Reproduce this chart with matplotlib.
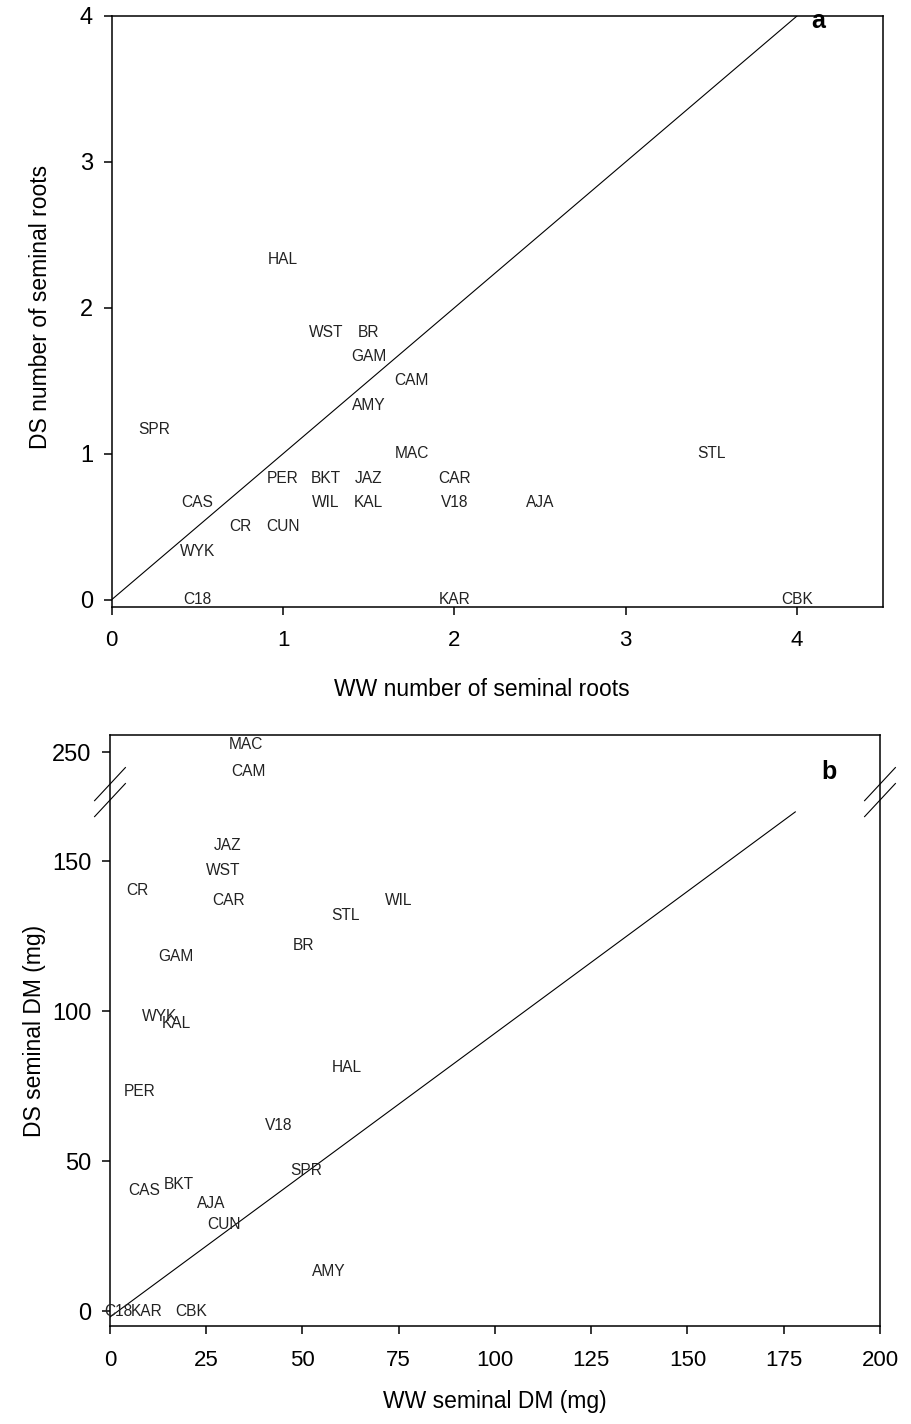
import numpy as np
import matplotlib
matplotlib.use("Agg")
from matplotlib import pyplot as plt

plt.rcParams['font.family'] = ['Liberation Sans', 'DejaVu Sans']

# ---------------------------- panel a : number of seminal roots -----------------------
names_a = ['HAL', 'WST', 'BR', 'GAM', 'CAM', 'AMY', 'SPR', 'MAC', 'STL',
           'PER', 'BKT', 'JAZ', 'CAR', 'CAS', 'WIL', 'KAL', 'V18', 'AJA',
           'CR', 'CUN', 'WYK', 'C18', 'KAR', 'CBK']
ww_roots = [1.0, 1.25, 1.5, 1.5, 1.75, 1.5, 0.25, 1.75, 3.5,
            1.0, 1.25, 1.5, 2.0, 0.5, 1.25, 1.5, 2.0, 2.5,
            0.75, 1.0, 0.5, 0.5, 2.0, 4.0]
ds_roots = [2.333, 1.833, 1.833, 1.667, 1.5, 1.333, 1.167, 1.0, 1.0,
            0.833, 0.833, 0.833, 0.833, 0.667, 0.667, 0.667, 0.667, 0.667,
            0.5, 0.5, 0.333, 0.0, 0.0, 0.0]

# ---------------------------- panel b : seminal dry matter -----------------------
names_b = ['MAC', 'CAM', 'JAZ', 'WST', 'CR', 'CAR', 'WIL', 'STL', 'BR', 'GAM',
           'WYK', 'KAL', 'HAL', 'PER', 'V18', 'SPR', 'CAS', 'BKT', 'AJA', 'CUN',
           'AMY', 'C18', 'KAR', 'CBK']
ww_dm = [35.2, 35.9, 30.6, 29.3, 7.1, 30.8, 75.1, 61.2, 50.2, 17.1,
         12.8, 17.3, 61.6, 7.8, 43.7, 50.9, 8.8, 17.9, 26.2, 29.6,
         56.9, 2.2, 9.4, 21.0]
ds_dm = [252.6, 243.5, 155.3, 147.0, 140.1, 136.7, 137.0, 131.8, 121.9, 118.3,
         98.1, 95.9, 81.2, 73.2, 62.0, 46.8, 40.3, 42.3, 35.9, 28.9,
         13.1, 0.0, 0.0, 0.0]
fit_slope, fit_intercept, fit_xmax = 0.946, -2.0, 178

# broken y axis of panel b
B1, B2, OFF = 174.0, 240.0, 63.7
k = (B2 - OFF - B1) / (B2 - B1)


def fwd(y):
    y = np.asarray(y, float)
    return np.where(y <= B1, y, np.where(y < B2, B1 + (y - B1) * k, y - OFF))


def inv(p):
    p = np.asarray(p, float)
    return np.where(p <= B1, p, np.where(p < B2 - OFF, B1 + (p - B1) / k, p + OFF))


fig = plt.figure(figsize=(9.12, 14.24), dpi=100)
ax_a = fig.add_axes([0.1225, 0.5740, 0.8454, 0.4148])
ax_b = fig.add_axes([0.1206, 0.0688, 0.8443, 0.4150])

for ax in (ax_a, ax_b):
    for s in ax.spines.values():
        s.set_linewidth(1.1)
    ax.tick_params(direction='out', length=6, width=1.1)
    ax.tick_params(axis='x', labelsize=16, pad=11)
    ax.tick_params(axis='y', labelsize=17, pad=7.5)

# panel a
ax_a.plot([0, 4], [0, 4], color='black', lw=0.8)
for n, x, y in zip(names_a, ww_roots, ds_roots):
    ax_a.text(x, y, n, ha='center', va='center', fontsize=11.2, color='#222222')
ax_a.set_xlim(0, 4.5)
ax_a.set_ylim(-0.048, 4.0)
ax_a.set_xticks([0, 1, 2, 3, 4])
ax_a.set_yticks([0, 1, 2, 3, 4])
ax_a.set_xlabel('WW number of seminal roots', fontsize=16.5)
ax_a.set_ylabel('DS number of seminal roots', fontsize=16.5)
ax_a.xaxis.set_label_coords(0.48, -0.1405)
ax_a.xaxis.label.set_va('center')
ax_a.yaxis.set_label_coords(-0.093, 0.508)
ax_a.yaxis.label.set_va('center')
ax_a.text(0.916, 0.992, 'a', transform=ax_a.transAxes, ha='center', va='center',
          fontsize=18, fontweight='bold')

# panel b
ax_b.set_yscale('function', functions=(fwd, inv))
xs = np.array([0, fit_xmax])
ax_b.plot(xs, fit_slope * xs + fit_intercept, color='black', lw=0.8)
for n, x, y in zip(names_b, ww_dm, ds_dm):
    ax_b.text(x, y, n, ha='center', va='center', fontsize=11.2, color='#222222')
ax_b.set_xlim(0, 200)
ax_b.set_ylim(-5, 255.7)
ax_b.set_xticks([0, 25, 50, 75, 100, 125, 150, 175, 200])
ax_b.set_yticks([0, 50, 100, 150, 250])
ax_b.set_yticklabels(['0', '50', '100', '150', '250'])
ax_b.set_xlabel('WW seminal DM (mg)', fontsize=16.5)
ax_b.set_ylabel('DS seminal DM (mg)', fontsize=16.5)
ax_b.xaxis.set_label_coords(0.5, -0.127)
ax_b.xaxis.label.set_va('center')
ax_b.yaxis.set_label_coords(-0.0974, 0.499)
ax_b.yaxis.label.set_va('center')
ax_b.text(0.934, 0.937, 'b', transform=ax_b.transAxes, ha='center', va='center',
          fontsize=18, fontweight='bold')

# break marks on both spines
dx, dy = 0.020, 0.028
for xc in (0, 1):
    for yc in (0.917, 0.890):
        ax_b.plot([xc - dx, xc + dx], [yc - dy, yc + dy], transform=ax_b.transAxes,
                  color='black', lw=0.8, clip_on=False)

fig.savefig('out.png', dpi=100)
